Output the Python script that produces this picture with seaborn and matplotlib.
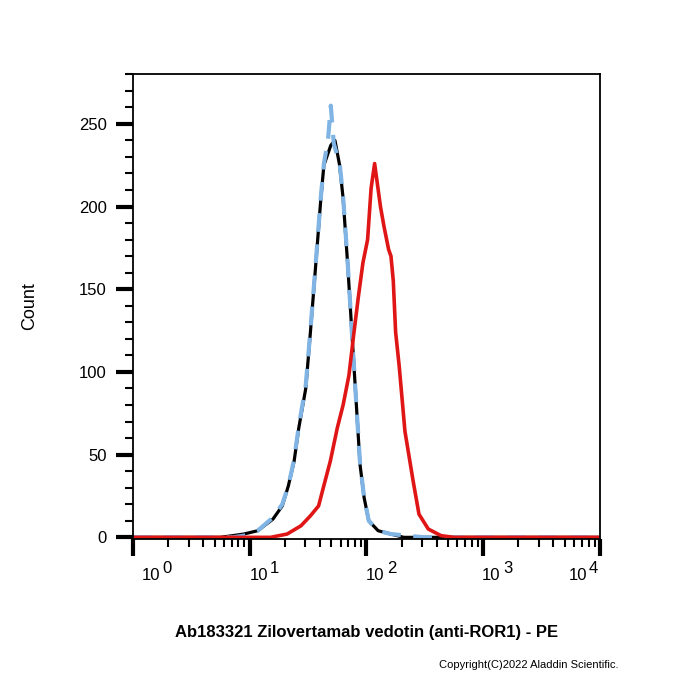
import matplotlib
matplotlib.use("Agg")
import matplotlib.pyplot as plt
import matplotlib.ticker as mticker
import pandas as pd
import seaborn as sns

# fluorescence intensity (PE) and event counts
ctrl_x = [1, 5.6, 7.1, 8.9, 11.7, 15.8, 19, 21.4, 24, 26.3, 30.2, 33.1, 36.7,
          40.7, 43.2, 49.5, 53.7, 58.9, 63.1, 69.2, 75, 81.3, 88.1, 95.5,
          104.7, 125.9, 162, 209, 10000]
ctrl_y = [0, 0, 1, 2, 4, 11, 19, 31, 46, 66, 90, 124, 164,
          205, 225, 237, 240, 225, 205, 164, 124, 84, 44, 24,
          10, 4, 2, 0, 0]

iso_x = [1, 7.1, 8.9, 11.7, 15.8, 19, 21.4, 24, 26.3, 30.2, 33.1, 36.7,
         40.7, 43.2, 46.8, 49.5, 52.5, 58.9, 63.1, 69.2, 75, 81.3, 88.1,
         95.5, 104.7, 125.9, 162, 224, 316, 10000]
iso_y = [0, 0, 1, 4, 12, 20, 31, 47, 67, 92, 125, 165,
         206, 226, 240, 261, 238, 226, 206, 165, 124, 84, 45,
         24, 10, 4, 2, 1, 0, 0]

ror1_x = [1, 15.1, 20.9, 27.5, 33.1, 38.9, 42.7, 49, 56.2, 63.1, 70.8, 77.6,
          85.1, 93.3, 102.3, 109.6, 117.5, 131.8, 141.3, 154.9, 162.2, 169.8,
          177.8, 190.5, 213.8, 251.2, 281.8, 338.8, 436.5, 562.3, 10000]
ror1_y = [0, 0, 2, 7, 13, 19, 30, 46, 66, 80, 98, 122,
          145, 166, 180, 211, 226, 200, 188, 174, 170, 155,
          124, 104, 64, 34, 14, 5, 1, 0, 0]

x_ticks = [1, 10, 100, 1000, 10000]
x_exps = ["0", "1", "2", "3", "4"]
y_ticks = [0, 50, 100, 150, 200, 250]

sns.set_style("ticks")
plt.rcParams['font.family'] = ['Liberation Sans', 'DejaVu Sans']
plt.rcParams['text.color'] = 'black'
plt.rcParams['xtick.color'] = 'black'
plt.rcParams['ytick.color'] = 'black'

fig = plt.figure(figsize=(7, 7), dpi=100)
ax = fig.add_axes([0.19, 0.23, 0.667, 0.664])

ctrl = pd.DataFrame({"x": ctrl_x, "y": ctrl_y})
iso = pd.DataFrame({"x": iso_x, "y": iso_y})
ror1 = pd.DataFrame({"x": ror1_x, "y": ror1_y})

sns.lineplot(data=ctrl, x="x", y="y", color="black", linewidth=2.3, ax=ax)
sns.lineplot(data=iso, x="x", y="y", color="#80B4E4", linewidth=3.0, ax=ax)
ax.lines[-1].set_dashes([4.5, 3])
sns.lineplot(data=ror1, x="x", y="y", color="#E01515", linewidth=2.6, ax=ax)

ax.set_xscale("log")
ax.set_xlim(1, 10000)
ax.set_ylim(-1, 280)

ax.set_xticks(x_ticks)
ax.set_xticklabels([])
ax.xaxis.set_minor_locator(mticker.LogLocator(base=10, subs=range(2, 10), numticks=20))
ax.xaxis.set_minor_formatter(mticker.NullFormatter())
ax.set_yticks(y_ticks)
ax.yaxis.set_minor_locator(mticker.MultipleLocator(10))

ax.tick_params(axis="both", which="both", bottom=True, left=True, top=False,
               right=False, direction="out", colors="black")
ax.tick_params(axis="both", which="major", length=12, width=3, labelsize=12)
ax.tick_params(axis="both", which="minor", length=6, width=1.5)
ax.tick_params(axis="y", which="major", pad=7)

# FlowJo-style "10" + full size exponent, placed like the original export
base_dx = [18, 9, 9, 8, -22]
exp_dx = [29, 20, 21, 20, -11]
xt = ax.get_xaxis_transform()
for t, e, bdx, edx in zip(x_ticks, x_exps, base_dx, exp_dx):
    ax.annotate("10", xy=(t, 0), xycoords=xt, xytext=(bdx, -41),
                textcoords="offset pixels", ha="center", va="baseline",
                fontsize=12, annotation_clip=False)
    ax.annotate(e, xy=(t, 0), xycoords=xt, xytext=(edx, -34),
                textcoords="offset pixels", ha="left", va="baseline",
                fontsize=12, annotation_clip=False)

for sp in ax.spines.values():
    sp.set_visible(True)
    sp.set_color("black")
    sp.set_linewidth(1.3)

ax.set_xlabel("")
ax.set_ylabel("")
fig.text(0.042, 0.563, "Count", rotation=90, ha="center", va="center", fontsize=13)
fig.text(0.523, 0.097, "Ab183321 Zilovertamab vedotin (anti-ROR1) - PE",
         ha="center", va="center", fontsize=12, fontweight="bold")
fig.text(0.884, 0.05, "Copyright(C)2022 Aladdin Scientific.", ha="right",
         va="center", fontsize=8)

fig.savefig("out.png", dpi=100)
